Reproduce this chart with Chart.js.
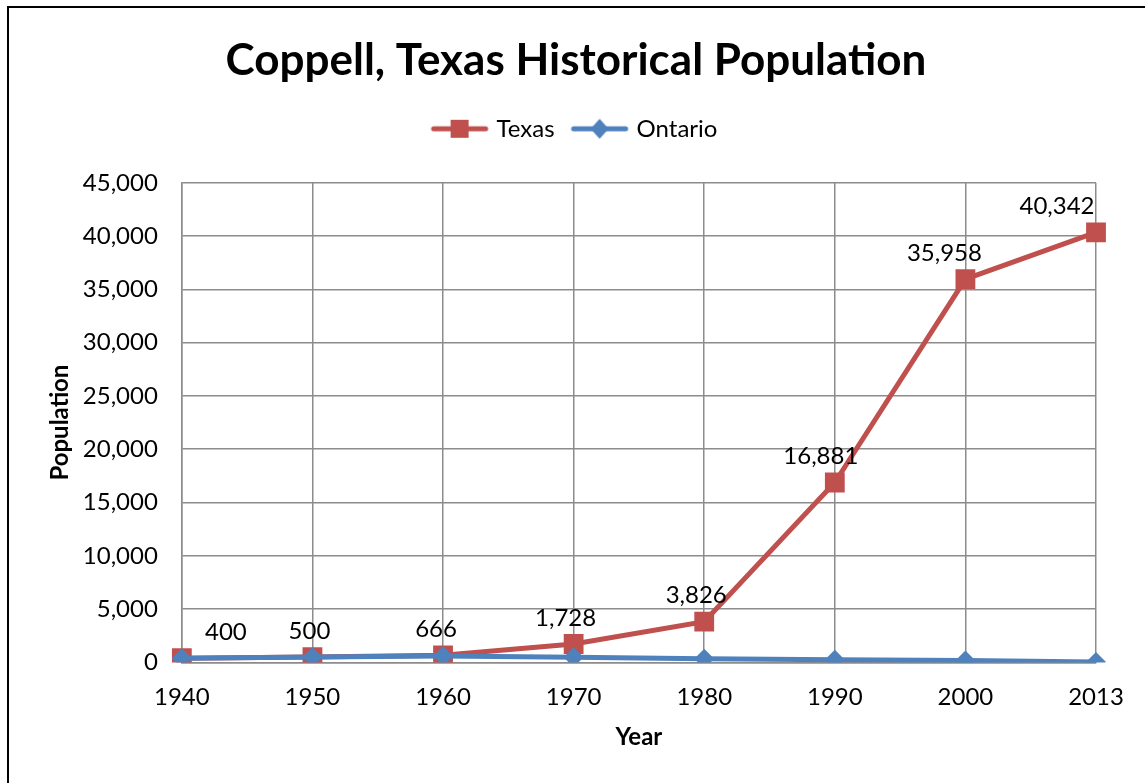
<!DOCTYPE html>
<html>
<head>
<meta charset="utf-8">
<script src="https://cdn.jsdelivr.net/npm/chart.js@4/dist/chart.umd.min.js"></script>
<style>
    body { margin: 0; background: #fff; overflow: hidden; }
    #frame {
        position: absolute; left: 7px; top: 6px; width: 1300px; height: 900px;
        border-left: 2px solid #000; border-top: 2px solid #000;
    }
    #populationChart { position: absolute; left: 0; top: 0; }
</style>
</head>
<body>
<div id="frame"></div>
<canvas id="populationChart" width="1145" height="783"></canvas>
<script>
// Chart data
const years = ['1940', '1950', '1960', '1970', '1980', '1990', '2000', '2013'];
const texasPopulation = [400, 500, 666, 1728, 3826, 16881, 35958, 40342];
const ontarioPopulation = [400, 500, 600, 480, 350, 250, 180, 30];
const yTicks = [0, 5000, 10000, 15000, 20000, 25000, 30000, 35000, 40000, 45000];

const FONT = 'Lato, Calibri, sans-serif';
const TEXAS_COLOR = '#c0504d';
const ONTARIO_COLOR = '#4f81bd';

// Legend symbol: line with marker in the middle
function legendSymbol(color, shape) {
    const c = document.createElement('canvas');
    c.width = 60; c.height = 22;
    const ctx = c.getContext('2d');
    ctx.strokeStyle = color;
    ctx.lineWidth = 5;
    ctx.lineCap = 'round';
    ctx.beginPath();
    ctx.moveTo(4, 11);
    ctx.lineTo(56, 11);
    ctx.stroke();
    ctx.fillStyle = color;
    if (shape === 'square') {
        ctx.fillRect(21, 2, 18, 18);
    } else {
        ctx.beginPath();
        ctx.moveTo(30, 1);
        ctx.lineTo(39, 11);
        ctx.lineTo(30, 21);
        ctx.lineTo(21, 11);
        ctx.closePath();
        ctx.fill();
    }
    return c;
}

// Data labels above the Texas points
const labelShiftX = [44, -3, -7, -8, -8, -14, -21, -39];
const dataLabels = {
    id: 'dataLabels',
    afterDatasetsDraw(chart) {
        const ctx = chart.ctx;
        const meta = chart.getDatasetMeta(0);
        ctx.save();
        ctx.font = '24px ' + FONT;
        ctx.fillStyle = '#000';
        ctx.textAlign = 'center';
        ctx.textBaseline = 'middle';
        meta.data.forEach((pt, i) => {
            const v = texasPopulation[i].toLocaleString('en-US');
            ctx.fillText(v, pt.x + labelShiftX[i], pt.y - 26);
        });
        ctx.restore();
    }
};

// Extra room under the legend
const legendSpace = {
    id: 'legendSpace',
    afterInit(chart) {
        const legend = chart.legend;
        const fit = legend.fit;
        legend.fit = function() {
            fit.call(legend);
            legend.height += 32;
        };
    }
};

const ctx = document.getElementById('populationChart').getContext('2d');
const chart = new Chart(ctx, {
    type: 'line',
    data: {
        labels: years,
        datasets: [{
            label: 'Texas',
            data: texasPopulation,
            borderColor: TEXAS_COLOR,
            backgroundColor: TEXAS_COLOR,
            borderWidth: 5,
            pointStyle: 'rect',
            pointRadius: 14,
            pointBorderWidth: 0,
            tension: 0,
            order: 1
        }, {
            label: 'Ontario',
            data: ontarioPopulation,
            borderColor: ONTARIO_COLOR,
            backgroundColor: ONTARIO_COLOR,
            borderWidth: 5,
            pointStyle: 'rectRot',
            pointRadius: 10,
            pointBorderWidth: 0,
            tension: 0,
            order: 0
        }]
    },
    options: {
        responsive: false,
        animation: false,
        layout: { padding: { left: 56, right: 49, top: 20, bottom: 31 } },
        plugins: {
            title: {
                display: true,
                text: 'Coppell, Texas Historical Population',
                color: '#000',
                font: { family: FONT, size: 44, weight: 'bold' },
                padding: { top: 14, bottom: 10 }
            },
            legend: {
                display: true,
                labels: {
                    color: '#000',
                    font: { family: FONT, size: 24 },
                    usePointStyle: true,
                    pointStyleWidth: 50,
                    padding: 20,
                    generateLabels(chart) {
                        return chart.data.datasets.map((ds, i) => ({
                            text: ds.label,
                            fontColor: '#000',
                            pointStyle: legendSymbol(ds.borderColor, i === 0 ? 'square' : 'diamond'),
                            datasetIndex: i,
                            lineWidth: 0,
                            hidden: false
                        }));
                    }
                }
            },
            tooltip: { enabled: false }
        },
        scales: {
            x: {
                offset: false,
                grid: { color: '#8c8c8c', lineWidth: 1.5, drawTicks: false },
                border: { color: '#8c8c8c', width: 1.5 },
                ticks: {
                    color: '#000',
                    font: { family: FONT, size: 24 },
                    padding: 20,
                    maxRotation: 0
                },
                title: {
                    display: true,
                    text: 'Year',
                    color: '#000',
                    font: { family: FONT, size: 24, weight: 'bold' },
                    padding: { top: -8, bottom: 0 }
                }
            },
            y: {
                min: 0,
                max: 45000,
                afterBuildTicks(scale) {
                    scale.ticks = yTicks.map(v => ({ value: v }));
                },
                grid: { color: '#8c8c8c', lineWidth: 1.5, drawTicks: false },
                border: { color: '#8c8c8c', width: 1.5 },
                ticks: {
                    color: '#000',
                    font: { family: FONT, size: 24 },
                    padding: 24,
                    callback: function(value) {
                        return value.toLocaleString('en-US');
                    }
                },
                title: {
                    display: true,
                    text: 'Population',
                    color: '#000',
                    font: { family: FONT, size: 24, weight: 'bold' },
                    padding: { top: -10, bottom: -16 }
                }
            }
        }
    },
    plugins: [dataLabels, legendSpace]
});
</script>
</body>
</html>
